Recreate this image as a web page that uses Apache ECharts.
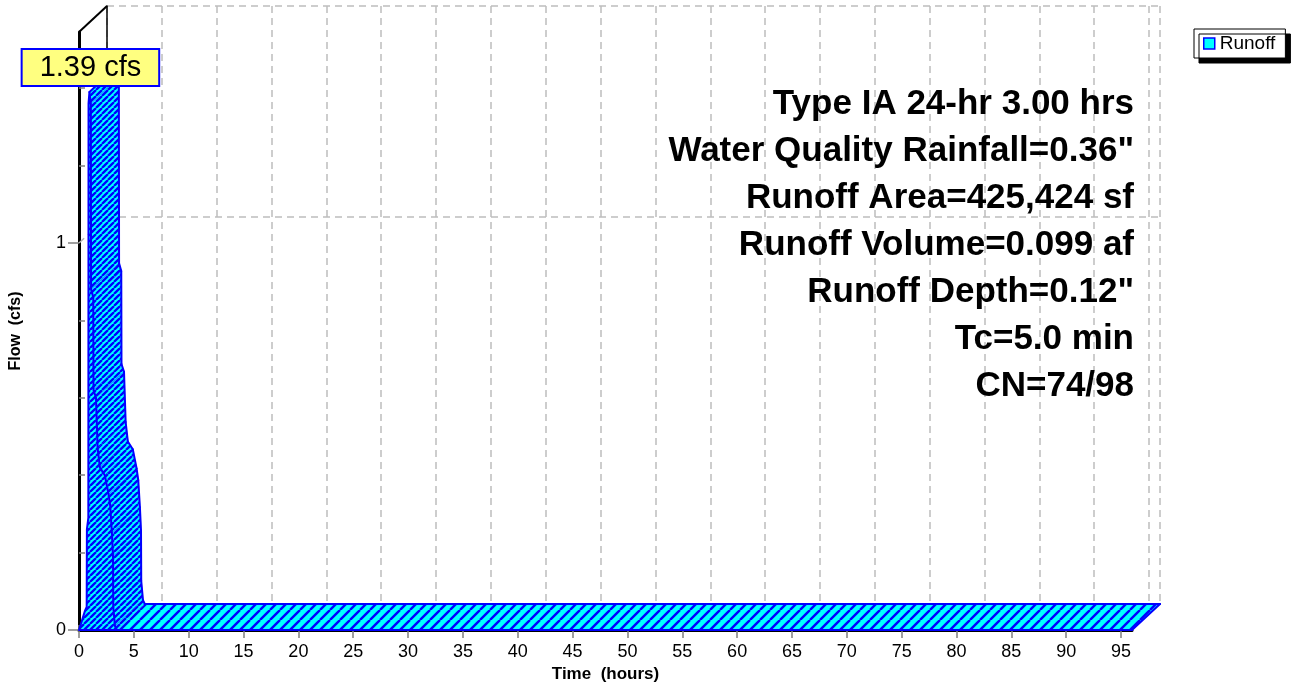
<!DOCTYPE html>
<html>
<head>
<meta charset="utf-8">
<script src="https://cdn.jsdelivr.net/npm/echarts@6/dist/echarts.min.js"></script>
<style>
  html, body { margin: 0; padding: 0; background: #ffffff; }
  #chart { width: 1294px; height: 685px; }
</style>
</head>
<body>
<div id="chart"></div>
<script>
// Runoff hydrograph: time (hours) and flow (cfs)
const hours = [0, 0.55, 0.7, 0.72, 0.85, 0.87, 0.95, 1.08, 1.1, 1.3, 1.32, 1.55, 1.7, 1.9, 2.35, 2.7, 2.85, 3.0, 3.1, 3.12, 3.28, 3.45, 96];
const flow  = [0, 0.05, 0.06, 0.26, 0.29, 1.36, 1.39, 1.36, 0.88, 0.86, 0.62, 0.60, 0.47, 0.42, 0.40, 0.35, 0.32, 0.25, 0.19, 0.06, 0.01, 0, 0];

const seriesName = 'Runoff';
const flowUnits = 'cfs';

const xMajorTicks = [0, 5, 10, 15, 20, 25, 30, 35, 40, 45, 50, 55, 60, 65, 70, 75, 80, 85, 90, 95];
const xMinorTicks = Array.from({ length: 96 }, (_, i) => i);
const yMajorTicks = [0, 1];
const yMinorTicks = [0.2, 0.4, 0.6, 0.8, 1.2, 1.4];

const infoLines = [
  'Type IA 24-hr 3.00 hrs',
  'Water Quality Rainfall=0.36"',
  'Runoff Area=425,424 sf',
  'Runoff Volume=0.099 af',
  'Runoff Depth=0.12"',
  'Tc=5.0 min',
  'CN=74/98'
];

const X_MAX = 96;
const Y_MAX = 1.545;

// depth of the 3-D extrusion in pixels (back plane is up and to the right)
const DX = 28, DY = -26;

const FONT = '"Liberation Sans", Arial, sans-serif';
const EDGE = '#0000FF';

function hatchCanvas(period, lw) {
  const c = document.createElement('canvas');
  c.width = c.height = period;
  const g = c.getContext('2d');
  g.fillStyle = '#00FFFF';
  g.fillRect(0, 0, period, period);
  g.strokeStyle = '#0000FF';
  g.lineWidth = lw;
  g.beginPath();
  for (let k = -1; k <= 1; k++) {
    g.moveTo(k * period, period);
    g.lineTo(k * period + period, 0);
  }
  g.stroke();
  return c;
}
// tight hatch on the raised faces, wider hatch on the floor strip
const hatchTight = { image: hatchCanvas(6, 2.3), repeat: 'repeat' };
const hatchWide = { image: hatchCanvas(10, 2.4), repeat: 'repeat' };

const peakFlow = Math.max(...flow);
const peakIndex = flow.indexOf(peakFlow);

function shift(p) { return [p[0] + DX, p[1] + DY]; }

function edgeLine(a, b, lw) {
  return { type: 'line', shape: { x1: a[0], y1: a[1], x2: b[0], y2: b[1] },
    style: { stroke: EDGE, lineWidth: lw, lineCap: 'round' } };
}

function renderHydrograph(params, api) {
  if (params.dataIndex !== 0) return null;
  const n = hours.length;
  const pts = hours.map((h, i) => api.coord([h, flow[i]]));
  const base0 = api.coord([hours[0], 0]);
  const baseN = api.coord([hours[n - 1], 0]);
  const front = pts.concat([baseN, base0]);
  const back = front.map(shift);
  const children = [];

  // back face (fill only, mostly hidden by the faces in front of it)
  children.push({ type: 'polygon', shape: { points: back }, style: { fill: hatchTight } });

  // visible side faces of each segment
  const visible = [];
  for (let i = 0; i < n - 1; i++) {
    const a = pts[i], b = pts[i + 1];
    const ex = b[0] - a[0], ey = b[1] - a[1];
    visible.push(ex * DY - ey * DX < 0);
  }
  const edges = [];
  for (let i = 0; i < n - 1; i++) {
    if (!visible[i]) continue;
    const a = pts[i], b = pts[i + 1];
    const flat = flow[i] === 0 && flow[i + 1] === 0;
    children.push({
      type: 'polygon',
      shape: { points: [a, b, shift(b), shift(a)] },
      style: { fill: flat ? hatchWide : hatchTight, stroke: flat ? null : 'rgba(0,0,255,0.35)', lineWidth: 1 }
    });
    edges.push(edgeLine(shift(a), shift(b), 2));
  }
  // depth edges where the visible surface turns away
  for (let j = 0; j < n; j++) {
    const before = j > 0 ? visible[j - 1] : false;
    const after = j < n - 1 ? visible[j] : false;
    if (before !== after) edges.push(edgeLine(pts[j], shift(pts[j]), 2));
  }
  children.push.apply(children, edges);

  // front face
  children.push({ type: 'polygon', shape: { points: front },
    style: { fill: hatchTight, stroke: EDGE, lineWidth: 2, lineJoin: 'round' } });

  const peak = api.coord([hours[peakIndex], peakFlow]);
  children.push({
    type: 'text',
    x: peak[0] + 1,
    y: peak[1] - 7,
    z2: 100,
    style: {
      text: peakFlow.toFixed(2) + ' ' + flowUnits,
      fill: '#000000',
      font: '29px ' + FONT,
      align: 'center',
      verticalAlign: 'bottom',
      backgroundColor: '#FFFF80',
      borderColor: '#0000FF',
      borderWidth: 2,
      padding: [4, 17, 2, 17]
    }
  });
  return { type: 'group', children: children };
}

// connector lines between the front axis and the back wall
function renderFrame(params, api) {
  if (params.dataIndex !== 0) return null;
  const top = api.coord([0, Y_MAX]);
  const one = api.coord([0, 1]);
  return {
    type: 'group',
    children: [
      { type: 'line', shape: { x1: top[0], y1: top[1], x2: top[0] + DX, y2: top[1] + DY },
        style: { stroke: '#000000', lineWidth: 2 } },
      { type: 'line', shape: { x1: one[0], y1: one[1], x2: one[0] + DX, y2: one[1] + DY },
        style: { stroke: '#b4b4b4', lineWidth: 1.5, lineDash: [7, 5] } }
    ]
  };
}

const chart = echarts.init(document.getElementById('chart'), null, { renderer: 'canvas' });

const gridFront = { left: 79, top: 32, width: 1053, height: 598 };
const gridBack = { left: 79 + DX, top: 32 + DY, width: 1053, height: 598 };

chart.setOption({
  animation: false,
  backgroundColor: '#ffffff',
  grid: [
    Object.assign({ containLabel: false, outerBoundsMode: 'none' }, gridFront),
    Object.assign({ containLabel: false, outerBoundsMode: 'none' }, gridBack)
  ],
  legend: {
    data: [{
      name: seriesName,
      icon: 'rect',
      itemStyle: { color: '#00FFFF', borderColor: '#0000FF', borderWidth: 1.5 }
    }],
    left: 1194,
    top: 29,
    orient: 'vertical',
    itemWidth: 11,
    itemHeight: 11,
    itemGap: 4,
    padding: [5, 10, 5, 9],
    backgroundColor: '#ffffff',
    borderColor: '#000000',
    borderWidth: 1,
    borderRadius: 0,
    shadowColor: '#000000',
    shadowBlur: 0,
    shadowOffsetX: 5,
    shadowOffsetY: 5,
    selectedMode: false,
    textStyle: { fontSize: 19, color: '#000000', fontFamily: FONT }
  },
  xAxis: [
    {
      // front time axis
      type: 'value', gridIndex: 0, min: 0, max: X_MAX, interval: 5,
      name: 'Time  (hours)', nameLocation: 'middle', nameGap: 35,
      nameTextStyle: { fontSize: 17, fontWeight: 'bold', color: '#000000', fontFamily: FONT },
      axisLine: { show: true, lineStyle: { color: '#000000', width: 3 } },
      axisTick: { show: true, customValues: xMajorTicks, length: 8, lineStyle: { color: '#808080', width: 1.5 } },
      axisLabel: { show: true, customValues: xMajorTicks, margin: 13, fontSize: 18, color: '#000000', fontFamily: FONT },
      splitLine: { show: false }
    },
    {
      // minor hour ticks
      type: 'value', gridIndex: 0, min: 0, max: X_MAX,
      axisLine: { show: false },
      axisTick: { show: true, customValues: xMinorTicks, length: 5, lineStyle: { color: '#808080', width: 1.5 } },
      axisLabel: { show: false },
      splitLine: { show: false }
    },
    {
      // back wall: vertical grid and top edge
      type: 'value', gridIndex: 1, min: 0, max: X_MAX, interval: 5, position: 'top',
      axisLine: { show: true, lineStyle: { color: '#000000', width: 1.5 } },
      axisTick: { show: false },
      axisLabel: { show: false },
      splitLine: { show: true, lineStyle: { color: '#bdbdbd', width: 1.5, type: [7, 5] } }
    }
  ],
  yAxis: [
    {
      // front flow axis
      type: 'value', gridIndex: 0, min: 0, max: Y_MAX, interval: 1,
      name: 'Flow  (cfs)', nameLocation: 'middle', nameGap: 55, nameRotate: 90,
      nameTextStyle: { fontSize: 16, fontWeight: 'bold', color: '#000000', fontFamily: FONT },
      axisLine: { show: true, lineStyle: { color: '#000000', width: 3 } },
      axisTick: { show: true, customValues: yMajorTicks, length: 11, lineStyle: { color: '#808080', width: 1.5 } },
      axisLabel: { show: true, customValues: yMajorTicks, margin: 13, fontSize: 18, color: '#000000', fontFamily: FONT },
      splitLine: { show: false }
    },
    {
      // minor flow ticks
      type: 'value', gridIndex: 0, min: 0, max: Y_MAX,
      axisLine: { show: false },
      axisTick: { show: true, customValues: yMinorTicks, length: 6, lineStyle: { color: '#808080', width: 1.5 } },
      axisLabel: { show: false },
      splitLine: { show: false }
    },
    {
      // back wall: horizontal grid and right edge
      type: 'value', gridIndex: 1, min: 0, max: Y_MAX, interval: 1, position: 'right',
      axisLine: { show: true, lineStyle: { color: '#000000', width: 1.5 } },
      axisTick: { show: false },
      axisLabel: { show: false },
      splitLine: { show: true, lineStyle: { color: '#bdbdbd', width: 1.5, type: [7, 5] } }
    }
  ],
  graphic: infoLines.map((t, i) => ({
    type: 'text',
    x: 1134,
    y: 104 + i * 47,
    z: 50,
    style: {
      text: t,
      fill: '#000000',
      font: 'bold 35px ' + FONT,
      align: 'right',
      verticalAlign: 'middle'
    }
  })),
  series: [
    {
      type: 'custom',
      name: 'frame',
      xAxisIndex: 0, yAxisIndex: 0,
      z: 1,
      silent: true,
      renderItem: renderFrame,
      data: [[0, 0]]
    },
    {
      type: 'custom',
      name: seriesName,
      xAxisIndex: 0, yAxisIndex: 0,
      z: 3,
      renderItem: renderHydrograph,
      data: hours.map((h, i) => [h, flow[i]]),
      itemStyle: { color: '#00FFFF', borderColor: '#0000FF' }
    }
  ]
});
</script>
</body>
</html>
